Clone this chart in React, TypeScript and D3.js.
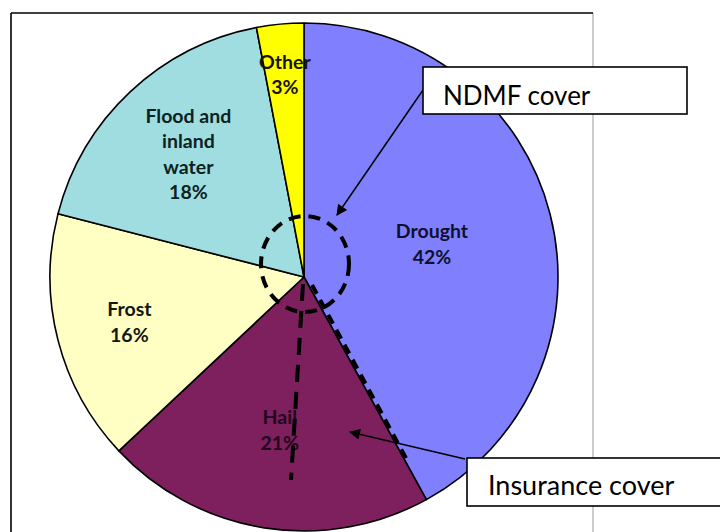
import React from "react";
import * as d3 from "d3";

const categories = ["Drought", "Hail", "Frost", "Flood and inland water", "Other"];
const values = [42, 21, 16, 18, 3];
const labelLines = [["Drought"], ["Hail"], ["Frost"], ["Flood and", "inland", "water"], ["Other"]];
const sliceColors = ["#8080FF", "#7E1F5E", "#FFFFC4", "#A0DDE0", "#FFFF00"];
const textColors = ["#10102e", "#22061c", "#161610", "#0c2222", "#161600"];
const labelRadiusFactor = [0.52, 0.61, 0.71, 0.665, 0.8];
const annotations = ["NDMF cover", "Insurance cover"];

const W = 720;
const H = 532;
const cx = 304;
const cy = 277;
const R = 254;

export default function App() {
  const pie = d3.pie<number>().sort(null).value((d) => d);
  const arcs = pie(values);
  const arc = d3.arc<d3.PieArcDatum<number>>().innerRadius(0).outerRadius(R);
  const lh = 25.5;
  const labelFont = "Lato, 'Open Sans', sans-serif";

  return (
    <svg
      width={W}
      height={H}
      style={{ position: "absolute", left: 0, top: 0, background: "#fff" }}
    >
      <defs>
        <marker id="ah" viewBox="0 0 10 10" refX="9" refY="5" markerWidth="15" markerHeight="11" markerUnits="userSpaceOnUse" orient="auto">
          <path d="M0,0 L10,5 L0,10 z" fill="#000" />
        </marker>
      </defs>
      {/* frame */}
      <line x1={593} y1={13} x2={593} y2={H} stroke="#999" strokeWidth={1} />
      <line x1={11} y1={13} x2={593} y2={13} stroke="#000" strokeWidth={1.6} />
      <line x1={11} y1={13} x2={11} y2={H} stroke="#000" strokeWidth={1.6} />

      <g transform={`translate(${cx},${cy})`}>
        {arcs.map((a, i) => (
          <path key={categories[i]} d={arc(a) || ""} fill={sliceColors[i]} stroke="#000" strokeWidth={1.6} strokeLinejoin="round" />
        ))}
        {arcs.map((a, i) => {
          const mid = (a.startAngle + a.endAngle) / 2;
          const lr = R * labelRadiusFactor[i];
          const x = lr * Math.sin(mid);
          const y = -lr * Math.cos(mid);
          const lines = [...labelLines[i], `${values[i]}%`];
          const y0 = y - ((lines.length - 1) * lh) / 2 + 7;
          return (
            <text key={"l" + i} x={x} y={y0} textAnchor="middle" fontFamily={labelFont} fontWeight="bold" fontSize={19.5} fill={textColors[i]}>
              {lines.map((t, j) => (
                <tspan key={j} x={x} y={y0 + j * lh}>{t}</tspan>
              ))}
            </text>
          );
        })}
      </g>

      {/* annotations */}
      <ellipse cx={305} cy={264} rx={44} ry={48} fill="none" stroke="#000" strokeWidth={4} strokeDasharray="12 8" />
      <line x1={303} y1={284} x2={291} y2={480} stroke="#000" strokeWidth={4} strokeDasharray="17 10" />
      <line x1={312} y1={285} x2={407} y2={460} stroke="#000" strokeWidth={4} strokeDasharray="10 7" />

      <line x1={423} y1={90} x2={337} y2={215} stroke="#000" strokeWidth={1.5} markerEnd="url(#ah)" />
      <line x1={465} y1={459} x2={350} y2={432} stroke="#000" strokeWidth={1.5} markerEnd="url(#ah)" />

      <rect x={423} y={67} width={264} height={47} fill="#fff" stroke="#000" strokeWidth={1.6} />
      <text x={443} y={105} fontFamily="Lato, 'Open Sans', sans-serif" fontSize={26} fill="#000">{annotations[0]}</text>

      <rect x={467} y={458} width={270} height={48} fill="#fff" stroke="#000" strokeWidth={1.6} />
      <text x={488} y={495} fontFamily="Lato, 'Open Sans', sans-serif" fontSize={27} fill="#000">{annotations[1]}</text>
    </svg>
  );
}
